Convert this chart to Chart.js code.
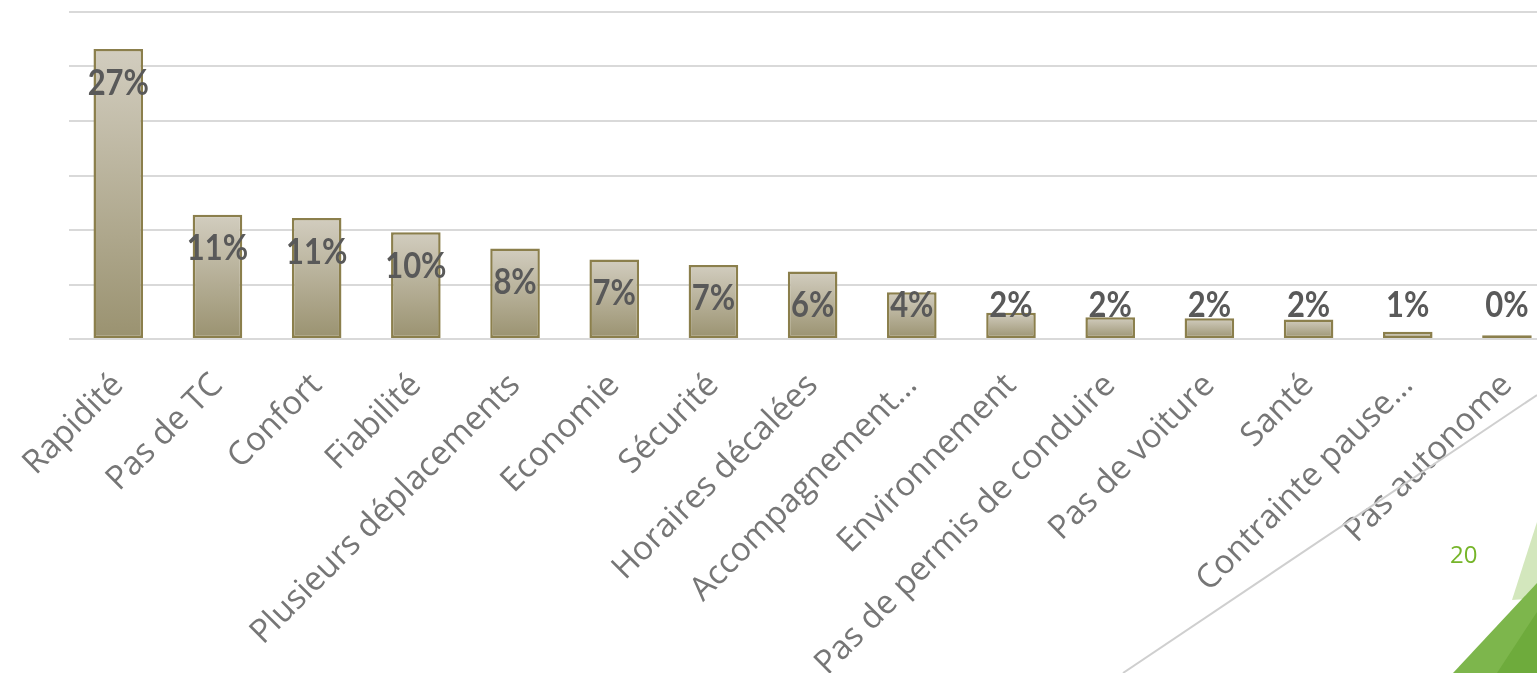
<!DOCTYPE html>
<html>
<head>
<meta charset="utf-8">
<script src="https://cdn.jsdelivr.net/npm/chart.js@4.4.1/dist/chart.umd.min.js"></script>
<style>
  html, body { margin: 0; padding: 0; background: #fff; overflow: hidden; }
  #wrap { position: relative; width: 1562px; height: 673px; }
  #deco { position: absolute; left: 0; top: 0; width: 1537px; height: 673px; pointer-events: none; }
  #page { position: absolute; left: 1450px; top: 537px; font: 24px "Open Sans", sans-serif; color: #76b52a; }
</style>
</head>
<body>
<div id="wrap">
  <canvas id="grafico"></canvas>
  <svg id="deco" viewBox="0 0 1537 673">
    <line x1="1123" y1="673" x2="1537" y2="395" stroke="#cfcfcf" stroke-width="2"/>
    <polygon points="1512,600 1537,522 1537,598" fill="#d3e7bd"/>
    <polygon points="1453,673 1537,583 1537,673" fill="#7db64c"/>
    <polygon points="1497,673 1537,612 1537,673" fill="#6eab3c"/>
  </svg>
  <div id="page">20</div>
</div>
<script>
// =============================
// DONNEES
// =============================
const categories = [
  "Rapidité", "Pas de TC", "Confort", "Fiabilité", "Plusieurs déplacements",
  "Economie", "Sécurité", "Horaires décalées", "Accompagnement…", "Environnement",
  "Pas de permis de conduire", "Pas de voiture", "Santé", "Contrainte pause…", "Pas autonome"
];
const pourcentages = [26.6, 11.4, 11.1, 9.8, 8.3, 7.3, 6.8, 6.2, 4.3, 2.4, 2.0, 1.9, 1.8, 0.66, 0.35];
const axeMax = 30;
const axePas = 5;

// degrade vertical propre a chaque barre
function fondBarre(ctx) {
  const chart = ctx.chart;
  const y = chart.scales && chart.scales.y;
  if (!y || !chart.chartArea || ctx.dataIndex === undefined) return "#b5ae94";
  const haut = y.getPixelForValue(pourcentages[ctx.dataIndex]);
  const bas = y.getPixelForValue(0);
  if (!isFinite(haut) || !isFinite(bas) || bas - haut < 1) return "#b5ae94";
  const g = chart.ctx.createLinearGradient(0, haut, 0, bas);
  g.addColorStop(0, "#d2cdbf");
  g.addColorStop(1, "#9a9270");
  return g;
}

// etiquettes de valeur (interieur haut, bornees au-dessus de l'axe)
const etiquettes = {
  id: "etiquettes",
  afterDatasetsDraw(chart) {
    const ctx = chart.ctx;
    const meta = chart.getDatasetMeta(0);
    ctx.save();
    ctx.font = "bold 36px Lato, sans-serif";
    ctx.fillStyle = "#595959";
    ctx.textAlign = "center";
    ctx.textBaseline = "middle";
    meta.data.forEach((bar, i) => {
      const y = Math.min(bar.y + 34, bar.base - 33);
      ctx.save();
      ctx.translate(bar.x, y);
      ctx.scale(0.86, 1);
      ctx.fillText(Math.round(pourcentages[i]) + "%", 0, 0);
      ctx.restore();
    });
    ctx.restore();
  }
};

const chartInstance = new Chart(document.getElementById("grafico"), {
  type: "bar",
  data: {
    labels: categories,
    datasets: [{
      data: pourcentages,
      backgroundColor: fondBarre,
      borderColor: "#8b7f4c",
      borderWidth: 2.5,
      borderSkipped: false,
      barPercentage: 0.5,
      categoryPercentage: 1
    }]
  },
  options: {
    responsive: true,
    maintainAspectRatio: false,
    animation: false,
    layout: { padding: { left: 68, top: 12, right: 2 } },
    plugins: { legend: { display: false }, tooltip: { enabled: false } },
    scales: {
      x: {
        grid: { display: false, drawTicks: false },
        border: { display: false },
        ticks: {
          minRotation: 45,
          maxRotation: 45,
          padding: 27,
          color: "#767676",
          font: { family: "'Open Sans', sans-serif", size: 33 }
        },
        afterFit: s => { s.height = 334; }
      },
      y: {
        min: 0,
        max: axeMax,
        ticks: { display: false, stepSize: axePas },
        grid: { color: "#d9d9d9", lineWidth: 2, drawTicks: false },
        border: { display: false },
        afterFit: s => { s.width = 0; }
      }
    }
  },
  plugins: [etiquettes]
});
</script>
</body>
</html>
